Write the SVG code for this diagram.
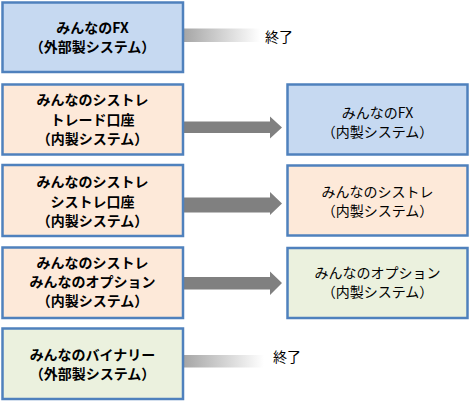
<svg xmlns="http://www.w3.org/2000/svg" width="470" height="402" viewBox="0 0 470 402">
<style>
.box{stroke:#4f81bd;stroke-width:2.5}
.blue{fill:#c6d9f1}
.peach{fill:#fde9d9}
.green{fill:#ebf1de}
text{font-family:"Noto Sans CJK JP","Noto Sans",sans-serif;font-size:14px;fill:#000;text-anchor:middle}
.b{font-weight:bold}
.end{text-anchor:start}
.arrow{fill:#808080}
</style>
<defs>
<linearGradient id="fade" x1="0" y1="0" x2="1" y2="0">
<stop offset="0" stop-color="#a6a6a6"/>
<stop offset="1" stop-color="#ffffff"/>
</linearGradient>
</defs>
<rect width="470" height="402" fill="#ffffff"/>
<g id="connectors">
<rect x="184" y="28.5" width="76" height="13.5" fill="url(#fade)"/>
<text class="end" x="265" y="42">終了</text>
<polygon class="arrow" points="184,121.5 270,121.5 270,116.5 282,127.5 270,138.5 270,133 184,133"/>
<polygon class="arrow" points="184,197.5 270,197.5 270,192 282,203.5 270,215 270,212.5 184,212.5"/>
<polygon class="arrow" points="184,277 270,277 270,271.5 282,283 270,295 270,289.5 184,289.5"/>
<rect x="184" y="355" width="80" height="12.5" fill="url(#fade)"/>
<text class="end" x="273" y="362">終了</text>
</g>
<g id="fx-ext">
<rect class="box blue" x="2.5" y="2.5" width="180.5" height="69.5"/>
<text class="b" x="92.5" y="33">みんなのFX</text>
<text class="b" x="92.5" y="51.5">（外部製システム）</text>
</g>
<g id="systre-trade">
<rect class="box peach" x="2.5" y="84.5" width="180.5" height="70"/>
<text class="b" x="92.5" y="105">みんなのシストレ</text>
<text class="b" x="92.5" y="124.5">トレード口座</text>
<text class="b" x="92.5" y="144">（内製システム）</text>
</g>
<g id="systre-systre">
<rect class="box peach" x="2.5" y="165" width="180.5" height="71"/>
<text class="b" x="92.5" y="187">みんなのシストレ</text>
<text class="b" x="92.5" y="206.5">シストレ口座</text>
<text class="b" x="92.5" y="226">（内製システム）</text>
</g>
<g id="systre-option">
<rect class="box peach" x="2.5" y="247.5" width="180.5" height="70.5"/>
<text class="b" x="92.5" y="268">みんなのシストレ</text>
<text class="b" x="92.5" y="287">みんなのオプション</text>
<text class="b" x="92.5" y="305.5">（内製システム）</text>
</g>
<g id="binary-ext">
<rect class="box green" x="2.5" y="328.5" width="180.5" height="70.5"/>
<text class="b" x="92.5" y="360">みんなのバイナリー</text>
<text class="b" x="92.5" y="378.5">（外部製システム）</text>
</g>
<g id="fx-int">
<rect class="box blue" x="287.5" y="84.5" width="180" height="70"/>
<text x="377.5" y="118">みんなのFX</text>
<text x="377.5" y="136.5">（内製システム）</text>
</g>
<g id="systre-int">
<rect class="box peach" x="287.5" y="165.5" width="180" height="70"/>
<text x="377.5" y="196.5">みんなのシストレ</text>
<text x="377.5" y="215.5">（内製システム）</text>
</g>
<g id="option-int">
<rect class="box green" x="287.5" y="248" width="180" height="70"/>
<text x="377.5" y="278">みんなのオプション</text>
<text x="377.5" y="297">（内製システム）</text>
</g>
</svg>
